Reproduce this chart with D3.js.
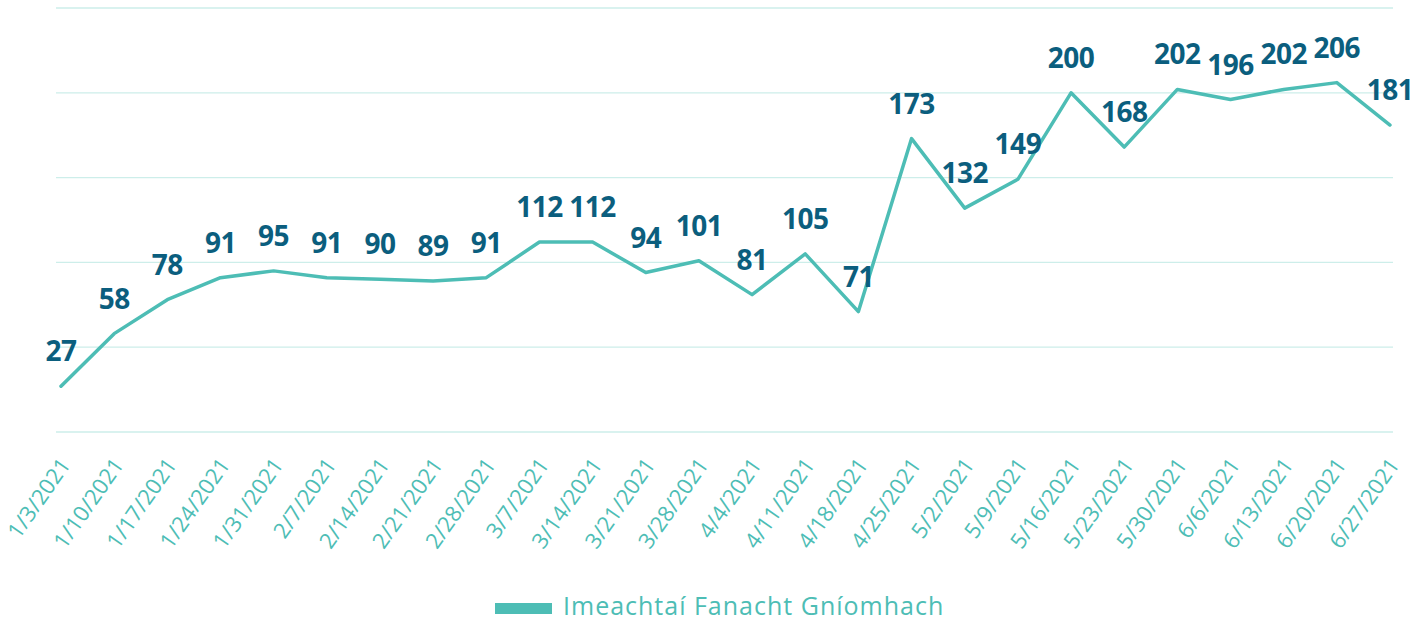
<!DOCTYPE html>
<html>
<head>
<meta charset="utf-8">
<script src="https://cdn.jsdelivr.net/npm/d3@7"></script>
<style>
  body { margin: 0; background: #fff; }
  svg { display: block; font-family: "Open Sans", Lato, sans-serif; }
</style>
</head>
<body>
<svg id="chart"></svg>
<script>
let dates = ["1/3/2021","1/10/2021","1/17/2021","1/24/2021","1/31/2021","2/7/2021","2/14/2021",
  "2/21/2021","2/28/2021","3/7/2021","3/14/2021","3/21/2021","3/28/2021","4/4/2021","4/11/2021",
  "4/18/2021","4/25/2021","5/2/2021","5/9/2021","5/16/2021","5/23/2021","5/30/2021","6/6/2021",
  "6/13/2021","6/20/2021","6/27/2021"]
let values = [27,58,78,91,95,91,90,89,91,112,112,94,101,81,105,71,173,132,149,200,168,202,196,202,206,181]
let gridTicks = [0, 50, 100, 150, 200, 250]
let seriesName = "Imeachtaí Fanacht Gníomhach"

let
  width = 1423,
  height = 621,
  lineColor = "#4dbdb5",
  labelColor = "#0b5e7e",
  gridColor = "#cdeeea"

let svg = d3.select("#chart")
  .attr("width", width)
  .attr("height", height)

let x = d3.scalePoint().domain(dates).range([61, 1390])
let y = d3.scaleLinear().domain([0, 250]).range([432, 8])

// horizontal gridlines
svg.append("g").selectAll("line")
  .data(gridTicks).enter()
  .append("line")
  .attr("x1", 56).attr("x2", 1393)
  .attr("y1", d => y(d)).attr("y2", d => y(d))
  .attr("stroke", gridColor)
  .attr("stroke-width", 1.3)

// x axis labels, steep rotation like the original
let xAxis = svg.append("g")
  .attr("transform", "translate(0,432)")
  .call(d3.axisBottom(x).tickSize(0).tickPadding(0))
xAxis.select(".domain").remove()
xAxis.selectAll("text")
  .attr("font-size", 22)
  .attr("font-family", "'Open Sans', sans-serif")
  .attr("fill", lineColor)
  .attr("text-anchor", "end")
  .attr("dy", null)
  .attr("transform", "translate(10,33) rotate(-55)")

let line = d3.line()
  .x((d, i) => x(dates[i]))
  .y(d => y(d))

svg.append("path")
  .datum(values)
  .attr("d", line)
  .attr("fill", "none")
  .attr("stroke", lineColor)
  .attr("stroke-width", 3.5)
  .attr("stroke-linejoin", "round")
  .attr("stroke-linecap", "round")

svg.append("g").selectAll("text")
  .data(values).enter()
  .append("text")
  .attr("x", (d, i) => x(dates[i]))
  .attr("y", d => y(d) - 25)
  .attr("text-anchor", "middle")
  .attr("font-size", 28)
  .attr("font-weight", "bold")
  .attr("letter-spacing", -0.5)
  .attr("fill", labelColor)
  .text(d => d)

// legend
svg.append("rect")
  .attr("x", 495).attr("y", 603)
  .attr("width", 57).attr("height", 11)
  .attr("fill", lineColor)
svg.append("text")
  .attr("x", 563).attr("y", 615)
  .attr("font-size", 25)
  .attr("letter-spacing", 1)
  .attr("fill", lineColor)
  .text(seriesName)
</script>
</body>
</html>
